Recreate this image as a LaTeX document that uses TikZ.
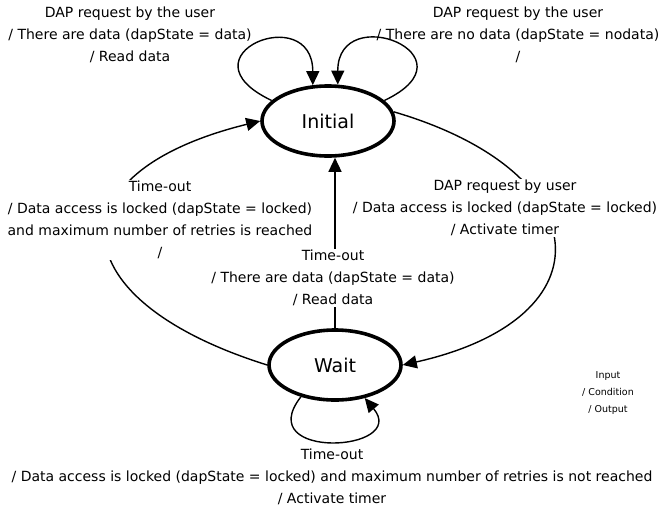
\documentclass[tikz,border=0pt]{standalone}
\usepackage{fontspec}
\setmainfont{DejaVu Sans}
\usetikzlibrary{shapes.geometric,arrows.meta}
\begin{document}
\begin{tikzpicture}[x=1pt,y=-1pt,
  state/.style={ellipse,draw,line width=3.6pt,minimum width=132pt,minimum height=70pt,inner sep=0pt,font=\fontsize{19}{22}\selectfont},
  lbl/.style={align=center,inner sep=1pt,font=\fontsize{14}{22}\selectfont},
  cover/.style={lbl,fill=white},
  small/.style={align=center,inner sep=1pt,font=\fontsize{9.5}{17}\selectfont},
  trans/.style={line width=1.4pt,-{Triangle[length=14pt,width=13pt]}}]
\useasboundingbox (0,0) rectangle (663,509);
\node[state] (init) at (328,121) {Initial};
\node[state] (wait) at (335,365) {Wait};
% self loops on Initial
\draw[trans] (init.160) .. controls +(-95,-45) and +(0,-85) .. (init.113);
\draw[trans] (init.20) .. controls +(95,-45) and +(0,-85) .. (init.75);
% Wait -> Initial (left)
\draw[trans] (wait.west) .. controls +(-208,-65) and +(-211,52) .. (init.west);
% Initial -> Wait (right)
\draw[trans] (init.8) .. controls +(205,60) and +(209,-47) .. (wait.east);
% Wait -> Initial (straight)
\draw[trans] (wait.north) -- (init.south -| wait.north);
% Wait self loop
\draw[trans] (wait.223) .. controls +(-50,64) and +(45,54) .. (wait.312);
% labels
\node[lbl] (l1) at (130,35) {DAP request by the user\\/ There are data (dapState = data)\\/ Read data};
\node[lbl] (l2) at (518,35) {DAP request by the user\\/ There are no data (dapState = nodata)\\/};
\node[cover] (l3) at (160,220) {Time-out\\/ Data access is locked (dapState = locked)\\and maximum number of retries is reached\\/};
\node[cover] (l4) at (505,208) {DAP request by user\\/ Data access is locked (dapState = locked)\\/ Activate timer};
\node[cover] (l5) at (333,278) {Time-out\\/ There are data (dapState = data)\\/ Read data};
\node[lbl] (l6) at (332,477) {Time-out\\/ Data access is locked (dapState = locked) and maximum number of retries is not reached\\/ Activate timer};
\node[small] (legend) at (608,393) {Input\\/ Condition\\/ Output};
\end{tikzpicture}
\end{document}
